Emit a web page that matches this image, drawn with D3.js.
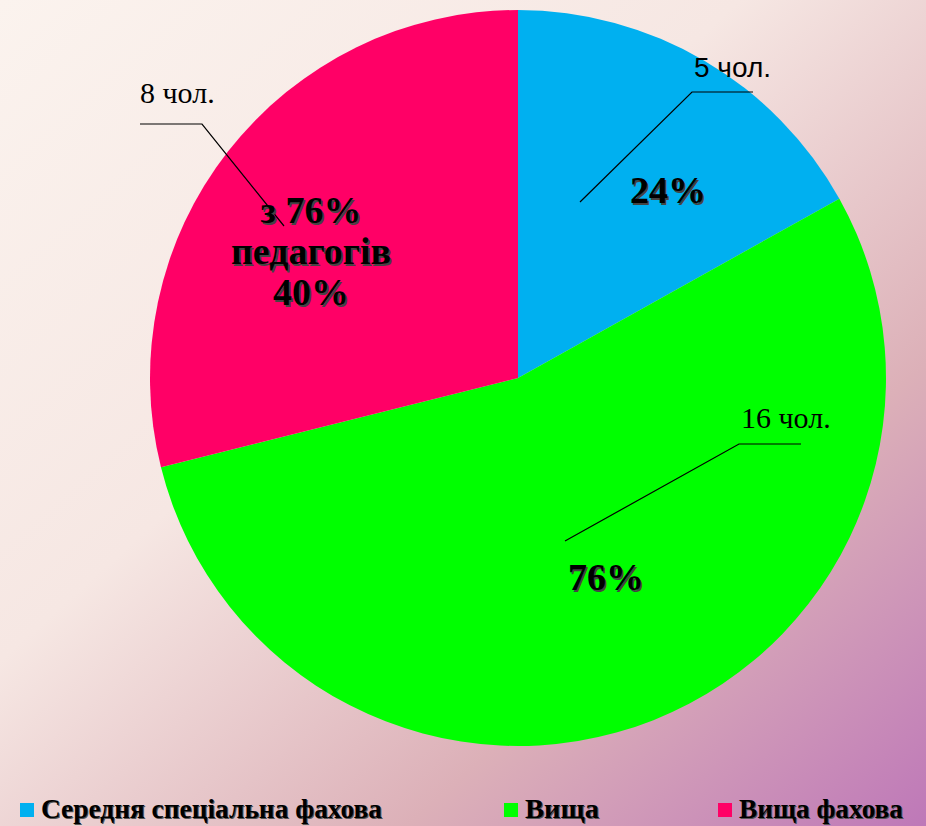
<!DOCTYPE html>
<html>
<head>
<meta charset="utf-8">
<script src="https://cdn.jsdelivr.net/npm/d3@7"></script>
<style>
  html, body { margin: 0; padding: 0; }
  body { width: 926px; height: 826px; overflow: hidden; }
</style>
</head>
<body>
<div id="chart"></div>
<script>
// chart data (slice shares, in %)
let categories = ["Середня спеціальна фахова", "Вища", "Вища фахова"];
let values = [16.9, 54.2, 28.9];
let countLabels = ["5 чол.", "16 чол.", "8 чол."];
let percentLabels = [["24%"], ["76%"], ["з 76%", "педагогів", "40%"]];
let colors = ["#00B0F0", "#00FF00", "#FF0066"];

let width = 926, height = 826;
let cx = 518, cy = 378, radius = 368;

let svg = d3.select("#chart")
  .append("svg")
  .attr("width", width)
  .attr("height", height);

// background gradient
let defs = svg.append("defs");
let grad = defs.append("linearGradient")
  .attr("id", "bg")
  .attr("x1", "0%").attr("y1", "0%")
  .attr("x2", "100%").attr("y2", "100%");
grad.append("stop").attr("offset", "0%").attr("stop-color", "#FBF3EE");
grad.append("stop").attr("offset", "40%").attr("stop-color", "#F6E7E3");
grad.append("stop").attr("offset", "72%").attr("stop-color", "#DCB0B8");
grad.append("stop").attr("offset", "100%").attr("stop-color", "#BE78B8");

svg.append("rect")
  .attr("width", width)
  .attr("height", height)
  .attr("fill", "url(#bg)");

// pie
let pie = d3.pie().sort(null).value(d => d);
let arcs = pie(values);
let arc = d3.arc().innerRadius(0).outerRadius(radius);

let g = svg.append("g").attr("transform", `translate(${cx},${cy})`);

g.selectAll("path")
  .data(arcs)
  .enter()
  .append("path")
  .attr("d", arc)
  .attr("fill", (d, i) => colors[i]);

// leader lines + count labels
let leaderSpecs = [
  { lab: [174, -286], inner: [62, -176], hlen: 61, side: 1, size: 28, font: "'Liberation Sans', Arial, sans-serif", ty: -15 },
  { lab: [221, 66], inner: [47, 163], hlen: 62, side: 1, size: 30, font: "'Liberation Serif', 'Times New Roman', serif", ty: -16 },
  { lab: [-316, -254], inner: [-234, -152], hlen: 62, side: -1, size: 30, font: "'Liberation Serif', 'Times New Roman', serif", ty: -21 }
];

arcs.forEach(function(d, i) {
  let s = leaderSpecs[i];
  let ex = s.lab[0], ey = s.lab[1];
  let hx = s.side > 0 ? ex + s.hlen : ex - s.hlen;
  g.append("path")
    .attr("d", "M " + s.inner[0] + " " + s.inner[1] + " L " + ex + " " + ey + " L " + hx + " " + ey)
    .attr("fill", "none")
    .attr("stroke", "#000")
    .attr("stroke-width", 1.2);
  let tx = s.side > 0 ? ex + 2 : hx;
  g.append("text")
    .attr("x", tx)
    .attr("y", ey + s.ty)
    .attr("font-family", s.font)
    .attr("font-size", s.size)
    .attr("fill", "#000")
    .text(countLabels[i]);
});

// percent labels in slices (bold with shadow)
let pctPos = [[150, -175], [88, 212], [-207, -155]];
function shadowText(sel, x, y, txt, size) {
  sel.append("text")
    .attr("x", x + 1.5).attr("y", y + 1.5)
    .attr("text-anchor", "middle")
    .attr("font-family", "'Liberation Serif', 'Times New Roman', serif")
    .attr("font-weight", "bold")
    .attr("font-size", size)
    .attr("fill", "#444")
    .text(txt);
  sel.append("text")
    .attr("x", x).attr("y", y)
    .attr("text-anchor", "middle")
    .attr("font-family", "'Liberation Serif', 'Times New Roman', serif")
    .attr("font-weight", "bold")
    .attr("font-size", size)
    .attr("fill", "#000")
    .text(txt);
}
percentLabels.forEach(function(lines, i) {
  lines.forEach(function(t, j) {
    shadowText(g, pctPos[i][0], pctPos[i][1] + j * 41, t, 38);
  });
});

// legend
let legendX = [20, 504, 718];
let legendW = [341, 74, 164];
let legend = svg.append("g");
categories.forEach(function(c, i) {
  legend.append("rect")
    .attr("x", legendX[i])
    .attr("y", 803)
    .attr("width", 14)
    .attr("height", 14)
    .attr("fill", colors[i]);
  legend.append("text")
    .attr("x", legendX[i] + 21 + 1)
    .attr("y", 818 + 1)
    .attr("font-family", "'Liberation Serif', 'Times New Roman', serif")
    .attr("font-weight", "bold")
    .attr("font-size", 27)
    .attr("fill", "#555")
    .attr("textLength", legendW[i])
    .attr("lengthAdjust", "spacingAndGlyphs")
    .text(c);
  legend.append("text")
    .attr("x", legendX[i] + 21)
    .attr("y", 818)
    .attr("font-family", "'Liberation Serif', 'Times New Roman', serif")
    .attr("font-weight", "bold")
    .attr("font-size", 27)
    .attr("fill", "#000")
    .attr("textLength", legendW[i])
    .attr("lengthAdjust", "spacingAndGlyphs")
    .text(c);
});
</script>
</body>
</html>
